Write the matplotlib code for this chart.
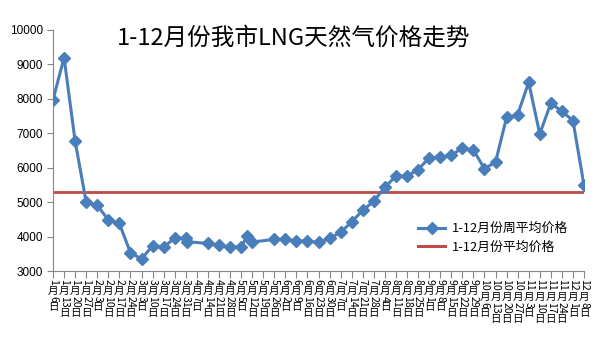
import datetime as dt

import matplotlib.pyplot as plt
import matplotlib.lines as mlines
import pandas as pd

plt.rcParams['font.family'] = ['Noto Sans CJK SC', 'DejaVu Sans']

# observation dates (mm-dd, 2013) and weekly average LNG price
obs_dates = ['01-06', '01-13', '01-20', '01-27', '02-03', '02-10', '02-17',
             '02-24', '03-03', '03-10', '03-17', '03-24', '03-31', '04-01',
             '04-14', '04-21', '04-28', '05-05', '05-09', '05-12', '05-26',
             '06-02', '06-09', '06-16', '06-23', '06-30', '07-07', '07-14',
             '07-21', '07-28', '08-04', '08-11', '08-18', '08-25', '09-01',
             '09-08', '09-15', '09-22', '09-29', '10-06', '10-13', '10-20',
             '10-27', '11-03', '11-10', '11-17', '11-24', '12-01', '12-08']
week_prices = [7970, 9200, 6770, 5000, 4910, 4480, 4380,
               3530, 3350, 3730, 3700, 3950, 3960, 3850,
               3800, 3750, 3700, 3700, 4010, 3840, 3920,
               3920, 3870, 3870, 3830, 3950, 4120, 4430,
               4760, 5030, 5430, 5760, 5760, 5940, 6290,
               6310, 6360, 6570, 6520, 5970, 6160, 7460,
               7540, 8480, 6980, 7870, 7640, 7370, 5490]
avg_price = 5290

series_names = ['1-12月份周平均价格', '1-12月份平均价格']
title = '1-12月份我市LNG天然气价格走势'
y_ticks = [3000, 4000, 5000, 6000, 7000, 8000, 9000, 10000]

dates = [dt.datetime.strptime('2013-' + d, '%Y-%m-%d') for d in obs_dates]
tick_dates = pd.date_range('2013-01-06', '2013-12-08', freq='7D')

blue = '#4A7EBB'
red = '#BE4B48'

fig = plt.figure(figsize=(6.03, 3.41), dpi=100)
ax = fig.add_axes([53 / 603, 70 / 341, 531 / 603, 241 / 341])

ax.plot([dates[0], dates[-1]], [avg_price, avg_price], color=red, lw=2.0,
        solid_capstyle='butt', zorder=2)
ax.plot(dates, week_prices, color=blue, lw=2.2, marker='D', markersize=6,
        zorder=3)

ax.set_xlim(dates[0], dates[-1])
ax.set_ylim(3000, 10000)
ax.set_yticks(y_ticks)
ax.set_yticklabels([str(v) for v in y_ticks], fontsize=8.5,
                   family=['Liberation Sans'])
ax.tick_params(axis='y', length=4, width=0.8, color='#868686', pad=3)
ax.set_xticks(tick_dates)
ax.set_xticklabels([])
ax.tick_params(axis='x', length=5, width=0.8, color='#868686', direction='out')

for s in ['top', 'right']:
    ax.spines[s].set_visible(False)
for s in ['left', 'bottom']:
    ax.spines[s].set_color('#868686')
    ax.spines[s].set_linewidth(0.8)

# vertical (East Asian style) date labels: digits sideways, CJK upright
fs = 7.6
digit_step = fs * 0.58
cjk_step = fs * 1.0
for d in tick_dates:
    parts = [(str(d.month), True), ('月', False), (str(d.day), True),
             ('日', False)]
    off = 6.0
    for txt, rot in parts:
        ax.annotate(txt, xy=(d, 0), xycoords=('data', 'axes fraction'),
                    xytext=(0, -off), textcoords='offset points',
                    ha='center', va='top', fontsize=fs,
                    rotation=-90 if rot else 0, annotation_clip=False)
        off += digit_step * len(txt) if rot else cjk_step

fig.text(294 / 603, 1 - 38 / 341, title, fontsize=17, ha='center',
         va='center')

h1 = mlines.Line2D([], [], color=blue, lw=2.2, marker='D', markersize=6)
h2 = mlines.Line2D([], [], color=red, lw=2.2)
ax.legend([h1, h2], series_names, loc='upper left',
          bbox_to_anchor=(413 / 603, 1 - 217 / 341),
          bbox_transform=fig.transFigure, frameon=False, fontsize=9.3,
          handlelength=2.1, handletextpad=0.5, labelspacing=0.45,
          borderaxespad=0)

fig.savefig('out.png', dpi=100)
